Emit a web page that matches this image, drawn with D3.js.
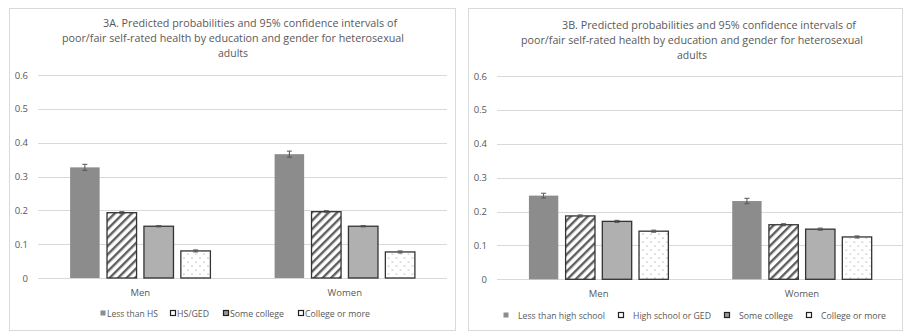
<!DOCTYPE html>
<html>
<head>
<meta charset="utf-8">
<script src="https://cdn.jsdelivr.net/npm/d3@7/dist/d3.min.js"></script>
<style>
  html, body { margin: 0; padding: 0; background: #fff; }
  svg { display: block; }
  text { font-family: "Open Sans", "Noto Sans", sans-serif; fill: #595959; }
</style>
</head>
<body>
<svg id="chart" width="903" height="331"></svg>
<script>
// Gender groups and education levels
const groups = ["Men", "Women"];
const legendA = ["Less than HS", "HS/GED", "Some college", "College or more"];
const legendB = ["Less than high school", "High school or GED", "Some college", "College or more"];

// Predicted probabilities (rows: Men, Women; columns: education level)
const valuesA = [[0.327, 0.193, 0.153, 0.080], [0.366, 0.196, 0.153, 0.077]];
const errorsA = [[0.009, 0.003, 0.002, 0.003], [0.009, 0.003, 0.002, 0.003]];
const valuesB = [[0.247, 0.187, 0.171, 0.142], [0.231, 0.161, 0.148, 0.125]];
const errorsB = [[0.007, 0.003, 0.003, 0.003], [0.008, 0.003, 0.003, 0.003]];

const yTicks = [0, 0.1, 0.2, 0.3, 0.4, 0.5, 0.6];
const tickLabels = ["0", "0.1", "0.2", "0.3", "0.4", "0.5", "0.6"];

const titleA = ["3A. Predicted probabilities and 95% confidence intervals of",
                "poor/fair self-rated health by education and gender for heterosexual",
                "adults"];
const titleB = ["3B. Predicted probabilities and 95% confidence intervals of",
                "poor/fair self-rated health by education and gender for heterosexual",
                "adults"];

const svg = d3.select("#chart");
const defs = svg.append("defs");

// Diagonal hatch for the second education level
const hatch = defs.append("pattern")
  .attr("id", "hatch").attr("patternUnits", "userSpaceOnUse")
  .attr("width", 6).attr("height", 6)
  .attr("patternTransform", "rotate(45)");
hatch.append("rect").attr("width", 6).attr("height", 6).attr("fill", "#fff");
hatch.append("rect").attr("x", 0).attr("width", 2.4).attr("height", 6).attr("fill", "#5f5f5f");

// Sparse dots for the fourth education level
const dots = defs.append("pattern")
  .attr("id", "dots").attr("patternUnits", "userSpaceOnUse")
  .attr("width", 8).attr("height", 8);
dots.append("rect").attr("width", 8).attr("height", 8).attr("fill", "#fff");
dots.append("circle").attr("cx", 2).attr("cy", 2).attr("r", 0.6).attr("fill", "#777");
dots.append("circle").attr("cx", 6).attr("cy", 6).attr("r", 0.6).attr("fill", "#777");

const fills = ["#8c8c8c", "url(#hatch)", "#b0b0b0", "url(#dots)"];
const strokes = ["none", "#333", "#333", "#333"];
const swatchFills = ["#8c8c8c", "#fff", "#9a9a9a", "#fff"];

function drawPanel(cfg) {
  const g = svg.append("g");

  // panel frame
  g.append("rect")
    .attr("x", cfg.frame[0] + 0.5).attr("y", cfg.frame[1] + 0.5)
    .attr("width", cfg.frame[2]).attr("height", cfg.frame[3])
    .attr("fill", "none").attr("stroke", "#d9d9d9");

  // title
  g.selectAll("text.title").data(cfg.title).join("text")
    .attr("class", "title")
    .attr("x", (d, i) => cfg.titleX[i])
    .attr("y", (d, i) => cfg.titleY + i * 15)
    .attr("text-anchor", "middle")
    .attr("font-size", 10.8)
    .attr("textLength", (d, i) => cfg.titleW[i])
    .attr("lengthAdjust", "spacingAndGlyphs")
    .text(d => d);

  const y = d3.scaleLinear().domain([0, 0.6]).range([cfg.y0, cfg.y6]);
  const x0 = d3.scaleBand().domain(groups).range([cfg.left, cfg.right]);
  const bw = x0.bandwidth();
  const x1 = d3.scaleBand().domain(d3.range(4))
    .range([bw * 0.157, bw * 0.843]).paddingInner(0.2);

  // gridlines
  g.append("g").selectAll("line").data(yTicks).join("line")
    .attr("x1", cfg.left).attr("x2", cfg.gridRight)
    .attr("y1", d => Math.round(y(d)) + 0.5).attr("y2", d => Math.round(y(d)) + 0.5)
    .attr("stroke", "#d9d9d9").attr("stroke-width", 1);

  // y tick labels
  g.append("g").selectAll("text").data(yTicks).join("text")
    .attr("x", cfg.tickX).attr("y", d => y(d) + 3.5)
    .attr("text-anchor", "end").attr("font-size", 9.5)
    .text((d, i) => tickLabels[i]);

  // bars
  const gg = g.selectAll("g.grp").data(groups).join("g")
    .attr("class", "grp")
    .attr("transform", d => `translate(${x0(d)},0)`);

  const rows = (d, gi) => cfg.values[gi].map((v, k) => ({ v, k, e: cfg.errors[gi][k] }));

  gg.selectAll("rect.bar").data(rows)
    .join("rect").attr("class", "bar")
    .attr("x", d => x1(d.k)).attr("width", x1.bandwidth())
    .attr("y", d => y(d.v)).attr("height", d => y(0) - y(d.v))
    .attr("fill", d => fills[d.k])
    .attr("stroke", d => strokes[d.k]).attr("stroke-width", 1.3);

  // 95% confidence interval whiskers
  const eb = gg.selectAll("g.err").data(rows)
    .join("g").attr("class", "err");
  eb.append("line")
    .attr("x1", d => x1(d.k) + x1.bandwidth() / 2).attr("x2", d => x1(d.k) + x1.bandwidth() / 2)
    .attr("y1", d => y(d.v - d.e)).attr("y2", d => y(d.v + d.e))
    .attr("stroke", "#555").attr("stroke-width", 1);
  [-1, 1].forEach(s => {
    eb.append("line")
      .attr("x1", d => x1(d.k) + x1.bandwidth() / 2 - 2.5).attr("x2", d => x1(d.k) + x1.bandwidth() / 2 + 2.5)
      .attr("y1", d => y(d.v + s * d.e)).attr("y2", d => y(d.v + s * d.e))
      .attr("stroke", "#555").attr("stroke-width", 1);
  });

  // category labels
  g.append("g").selectAll("text").data(groups).join("text")
    .attr("x", d => x0(d) + bw / 2).attr("y", cfg.catY)
    .attr("text-anchor", "middle").attr("font-size", 9.5)
    .text(d => d);

  // legend
  const lg = g.append("g").selectAll("g").data(cfg.legend).join("g")
    .attr("transform", (d, i) => `translate(${cfg.legendX[i]},${cfg.legendY})`);
  lg.append("rect")
    .attr("x", 0.5).attr("y", -6.5).attr("width", 5).attr("height", 5)
    .attr("fill", (d, i) => swatchFills[i])
    .attr("stroke", (d, i) => i === 0 ? "none" : "#222").attr("stroke-width", 1.2);
  lg.append("text")
    .attr("x", cfg.legendGap).attr("y", 0)
    .attr("font-size", 9.5)
    .attr("textLength", (d, i) => cfg.legendW[i])
    .attr("lengthAdjust", "spacingAndGlyphs")
    .text(d => d);
}

drawPanel({
  frame: [9, 8, 446, 322],
  title: titleA, titleX: [250, 233, 233], titleY: 27, titleW: [294, 342, 30],
  values: valuesA, errors: errorsA,
  left: 38, right: 447, gridRight: 447, y0: 278, y6: 75, tickX: 28,
  catY: 296,
  legend: legendA, legendX: [100, 170, 223, 298], legendY: 317, legendGap: 7,
  legendW: [51, 32, 54, 65]
});

drawPanel({
  frame: [468, 8, 434, 322],
  title: titleB, titleX: [709, 692, 692], titleY: 29, titleW: [294, 342, 30],
  values: valuesB, errors: errorsB,
  left: 497, right: 903.6, gridRight: 903, y0: 279.3, y6: 76, tickX: 487,
  catY: 297,
  legend: legendB, legendX: [503, 618, 724, 806], legendY: 319, legendGap: 15,
  legendW: [87, 78, 54, 65]
});
</script>
</body>
</html>
